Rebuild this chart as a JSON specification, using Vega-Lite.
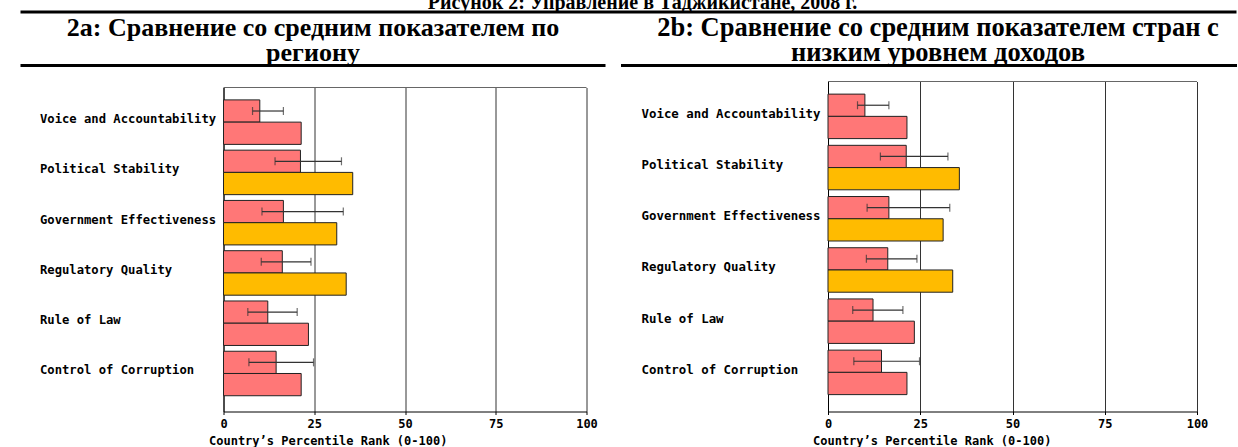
{
  "$schema": "https://vega.github.io/schema/vega-lite/v6.json",
  "padding": {"left": 18.5, "top": 0, "right": 0, "bottom": 0},
  "autosize": {"type": "pad"},
  "background": "#ffffff",
  "datasets": {
    "wgi": [
      {"panel": "2a", "indicator": "Voice and Accountability", "series": "Tajikistan", "value": 10.0, "lo": 8.0, "hi": 16.5, "rank": "10-25"},
      {"panel": "2a", "indicator": "Voice and Accountability", "series": "Comparison", "value": 21.4, "rank": "10-25"},
      {"panel": "2a", "indicator": "Political Stability", "series": "Tajikistan", "value": 21.2, "lo": 14.2, "hi": 32.5, "rank": "10-25"},
      {"panel": "2a", "indicator": "Political Stability", "series": "Comparison", "value": 35.6, "rank": "25-50"},
      {"panel": "2a", "indicator": "Government Effectiveness", "series": "Tajikistan", "value": 16.5, "lo": 10.6, "hi": 33.0, "rank": "10-25"},
      {"panel": "2a", "indicator": "Government Effectiveness", "series": "Comparison", "value": 31.2, "rank": "25-50"},
      {"panel": "2a", "indicator": "Regulatory Quality", "series": "Tajikistan", "value": 16.2, "lo": 10.4, "hi": 24.1, "rank": "10-25"},
      {"panel": "2a", "indicator": "Regulatory Quality", "series": "Comparison", "value": 33.8, "rank": "25-50"},
      {"panel": "2a", "indicator": "Rule of Law", "series": "Tajikistan", "value": 12.2, "lo": 6.7, "hi": 20.3, "rank": "10-25"},
      {"panel": "2a", "indicator": "Rule of Law", "series": "Comparison", "value": 23.4, "rank": "10-25"},
      {"panel": "2a", "indicator": "Control of Corruption", "series": "Tajikistan", "value": 14.5, "lo": 7.0, "hi": 24.8, "rank": "10-25"},
      {"panel": "2a", "indicator": "Control of Corruption", "series": "Comparison", "value": 21.4, "rank": "10-25"},
      {"panel": "2b", "indicator": "Voice and Accountability", "series": "Tajikistan", "value": 10.0, "lo": 8.0, "hi": 16.5, "rank": "10-25"},
      {"panel": "2b", "indicator": "Voice and Accountability", "series": "Comparison", "value": 21.4, "rank": "10-25"},
      {"panel": "2b", "indicator": "Political Stability", "series": "Tajikistan", "value": 21.2, "lo": 14.2, "hi": 32.5, "rank": "10-25"},
      {"panel": "2b", "indicator": "Political Stability", "series": "Comparison", "value": 35.6, "rank": "25-50"},
      {"panel": "2b", "indicator": "Government Effectiveness", "series": "Tajikistan", "value": 16.5, "lo": 10.6, "hi": 33.0, "rank": "10-25"},
      {"panel": "2b", "indicator": "Government Effectiveness", "series": "Comparison", "value": 31.2, "rank": "25-50"},
      {"panel": "2b", "indicator": "Regulatory Quality", "series": "Tajikistan", "value": 16.2, "lo": 10.4, "hi": 24.1, "rank": "10-25"},
      {"panel": "2b", "indicator": "Regulatory Quality", "series": "Comparison", "value": 33.8, "rank": "25-50"},
      {"panel": "2b", "indicator": "Rule of Law", "series": "Tajikistan", "value": 12.2, "lo": 6.7, "hi": 20.3, "rank": "10-25"},
      {"panel": "2b", "indicator": "Rule of Law", "series": "Comparison", "value": 23.4, "rank": "10-25"},
      {"panel": "2b", "indicator": "Control of Corruption", "series": "Tajikistan", "value": 14.5, "lo": 7.0, "hi": 24.8, "rank": "10-25"},
      {"panel": "2b", "indicator": "Control of Corruption", "series": "Comparison", "value": 21.4, "rank": "10-25"}
    ]
  },
  "spacing": 0,
  "vconcat": [
    {
      "width": 1216,
      "height": 12,
      "view": {"stroke": null},
      "data": {"values": [{"t": "Рисунок 2: Управление в Таджикистане, 2008 г."}]},
      "layer": [
        {
          "mark": {"type": "text", "font": "Liberation Serif", "fontWeight": "bold", "fontSize": 20, "baseline": "alphabetic", "dy": 2.5, "dx": 14, "clip": true, "color": "#000"},
          "encoding": {"text": {"field": "t", "type": "nominal"}}
        },
        {
          "mark": {"type": "rule", "strokeWidth": 3, "color": "#000"},
          "encoding": {"x": {"value": 0}, "x2": {"value": "width"}, "y": {"value": "height"}}
        }
      ]
    },
    {
      "spacing": 11.5,
      "hconcat": [
        {
          "spacing": 19.5,
          "vconcat": [
            {
              "width": 585,
              "height": 48.5,
              "view": {"stroke": null},
              "data": {"values": [{"t": "2a: Сравнение со средним показателем по\nрегиону"}]},
              "layer": [
                {
                  "mark": {"type": "text", "font": "Liberation Serif", "fontWeight": "bold", "fontSize": 26, "baseline": "alphabetic", "lineBreak": "\n", "lineHeight": 25, "dy": -5.75, "dx": 0, "color": "#000"},
                  "encoding": {"text": {"field": "t", "type": "nominal"}}
                },
                {
                  "mark": {"type": "rule", "strokeWidth": 3, "color": "#000"},
                  "encoding": {"x": {"value": 0}, "x2": {"value": "width"}, "y": {"value": "height"}}
                }
              ]
            },
            {
              "width": 566,
              "height": 324,
              "view": {"stroke": null},
              "layer": [
                {
                  "data": {"name": "wgi"},
                  "transform": [{"filter": "datum.panel === '2a'"}],
                  "mark": {"type": "bar", "stroke": "#222", "strokeWidth": 1},
                  "encoding": {
                    "y": {
                      "field": "indicator", "type": "nominal", "sort": null,
                      "scale": {"paddingInner": 0.115, "paddingOuter": 0.28, "align": 0.44},
                      "axis": {"title": null, "offset": -203, "labelAlign": "left", "labelPadding": 184, "ticks": false, "labelFontSize": 12.2, "labelOffset": -3, "labelBaseline": "middle", "labelLimit": 300}
                    },
                    "yOffset": {"field": "series", "type": "nominal", "sort": ["Tajikistan", "Comparison"]},
                    "x": {"field": "value", "type": "quantitative", "scale": {"domain": [0, 100], "nice": false, "range": [203, 566]},
                          "axis": {"values": [0, 25, 50, 75, 100], "title": "Country’s Percentile Rank (0-100)", "grid": true, "gridColor": "#333", "tickColor": "#000", "tickSize": 3, "labelFontSize": 12, "labelPadding": 4, "labelFlush": false,
                                   "titleFontSize": 12, "titleAnchor": "start", "titleAlign": "left", "titleX": 188, "titleY": 33, "titleBaseline": "alphabetic"}},
                    "color": {"field": "rank", "type": "nominal", "scale": {"domain": ["10-25", "25-50"], "range": ["#FF7777", "#FFBB00"]}, "legend": null}
                  }
                },
                {
                  "data": {"name": "wgi"},
                  "transform": [{"filter": "datum.panel === '2a' && datum.series === 'Tajikistan'"}],
                  "mark": {"type": "rule", "color": "#333", "strokeWidth": 1.2},
                  "encoding": {
                    "y": {"field": "indicator", "type": "nominal", "sort": null},
                    "yOffset": {"field": "series", "type": "nominal", "sort": ["Tajikistan", "Comparison"]},
                    "x": {"field": "lo", "type": "quantitative"}, "x2": {"field": "hi"}
                  }
                },
                {
                  "data": {"name": "wgi"},
                  "transform": [{"filter": "datum.panel === '2a' && datum.series === 'Tajikistan'"}],
                  "mark": {"type": "tick", "color": "#333", "thickness": 1.2, "size": 8},
                  "encoding": {
                    "y": {"field": "indicator", "type": "nominal", "sort": null},
                    "yOffset": {"field": "series", "type": "nominal", "sort": ["Tajikistan", "Comparison"]},
                    "x": {"field": "lo", "type": "quantitative"}
                  }
                },
                {
                  "data": {"name": "wgi"},
                  "transform": [{"filter": "datum.panel === '2a' && datum.series === 'Tajikistan'"}],
                  "mark": {"type": "tick", "color": "#333", "thickness": 1.2, "size": 8},
                  "encoding": {
                    "y": {"field": "indicator", "type": "nominal", "sort": null},
                    "yOffset": {"field": "series", "type": "nominal", "sort": ["Tajikistan", "Comparison"]},
                    "x": {"field": "hi", "type": "quantitative"}
                  }
                },
                {
                  "data": {"values": [{}]},
                  "mark": {"type": "rule", "color": "#666", "strokeWidth": 1},
                  "encoding": {"x": {"datum": 0, "type": "quantitative"}, "x2": {"datum": 100}, "y": {"value": 0}}
                }
              ]
            }
          ]
        },
        {
          "spacing": 13.5,
          "vconcat": [
            {
              "width": 616,
              "height": 48.5,
              "view": {"stroke": null},
              "data": {"values": [{"t": "2b: Сравнение со средним показателем стран с\nнизким уровнем доходов"}]},
              "layer": [
                {
                  "mark": {"type": "text", "font": "Liberation Serif", "fontWeight": "bold", "fontSize": 26.5, "baseline": "alphabetic", "lineBreak": "\n", "lineHeight": 25, "dy": -5.75, "dx": 9, "color": "#000"},
                  "encoding": {"text": {"field": "t", "type": "nominal"}}
                },
                {
                  "mark": {"type": "rule", "strokeWidth": 3, "color": "#000"},
                  "encoding": {"x": {"value": 0}, "x2": {"value": "width"}, "y": {"value": "height"}}
                }
              ]
            },
            {
              "width": 576,
              "height": 330,
              "view": {"stroke": null},
              "layer": [
                {
                  "data": {"name": "wgi"},
                  "transform": [{"filter": "datum.panel === '2b'"}],
                  "mark": {"type": "bar", "stroke": "#222", "strokeWidth": 1},
                  "encoding": {
                    "y": {
                      "field": "indicator", "type": "nominal", "sort": null,
                      "scale": {"paddingInner": 0.115, "paddingOuter": 0.28, "align": 0.44},
                      "axis": {"title": null, "offset": -207, "labelAlign": "left", "labelPadding": 187, "ticks": false, "labelFontSize": 12.4, "labelOffset": -3, "labelBaseline": "middle", "labelLimit": 300}
                    },
                    "yOffset": {"field": "series", "type": "nominal", "sort": ["Tajikistan", "Comparison"]},
                    "x": {"field": "value", "type": "quantitative", "scale": {"domain": [0, 100], "nice": false, "range": [207, 576]},
                          "axis": {"values": [0, 25, 50, 75, 100], "title": "Country’s Percentile Rank (0-100)", "grid": true, "gridColor": "#333", "tickColor": "#000", "tickSize": 3, "labelFontSize": 12, "labelPadding": 4, "labelFlush": false,
                                   "titleFontSize": 12, "titleAnchor": "start", "titleAlign": "left", "titleX": 191.5, "titleY": 33, "titleBaseline": "alphabetic"}},
                    "color": {"field": "rank", "type": "nominal", "scale": {"domain": ["10-25", "25-50"], "range": ["#FF7777", "#FFBB00"]}, "legend": null}
                  }
                },
                {
                  "data": {"name": "wgi"},
                  "transform": [{"filter": "datum.panel === '2b' && datum.series === 'Tajikistan'"}],
                  "mark": {"type": "rule", "color": "#333", "strokeWidth": 1.2},
                  "encoding": {
                    "y": {"field": "indicator", "type": "nominal", "sort": null},
                    "yOffset": {"field": "series", "type": "nominal", "sort": ["Tajikistan", "Comparison"]},
                    "x": {"field": "lo", "type": "quantitative"}, "x2": {"field": "hi"}
                  }
                },
                {
                  "data": {"name": "wgi"},
                  "transform": [{"filter": "datum.panel === '2b' && datum.series === 'Tajikistan'"}],
                  "mark": {"type": "tick", "color": "#333", "thickness": 1.2, "size": 8},
                  "encoding": {
                    "y": {"field": "indicator", "type": "nominal", "sort": null},
                    "yOffset": {"field": "series", "type": "nominal", "sort": ["Tajikistan", "Comparison"]},
                    "x": {"field": "lo", "type": "quantitative"}
                  }
                },
                {
                  "data": {"name": "wgi"},
                  "transform": [{"filter": "datum.panel === '2b' && datum.series === 'Tajikistan'"}],
                  "mark": {"type": "tick", "color": "#333", "thickness": 1.2, "size": 8},
                  "encoding": {
                    "y": {"field": "indicator", "type": "nominal", "sort": null},
                    "yOffset": {"field": "series", "type": "nominal", "sort": ["Tajikistan", "Comparison"]},
                    "x": {"field": "hi", "type": "quantitative"}
                  }
                },
                {
                  "data": {"values": [{}]},
                  "mark": {"type": "rule", "color": "#666", "strokeWidth": 1},
                  "encoding": {"x": {"datum": 0, "type": "quantitative"}, "x2": {"datum": 100}, "y": {"value": 0}}
                }
              ]
            }
          ]
        }
      ]
    }
  ],
  "config": {
    "axis": {"labelFont": "DejaVu Sans Mono", "labelFontWeight": "bold", "labelColor": "#000", "titleFont": "DejaVu Sans Mono", "titleFontWeight": "bold", "titleColor": "#000", "domainColor": "#000"}
  }
}
